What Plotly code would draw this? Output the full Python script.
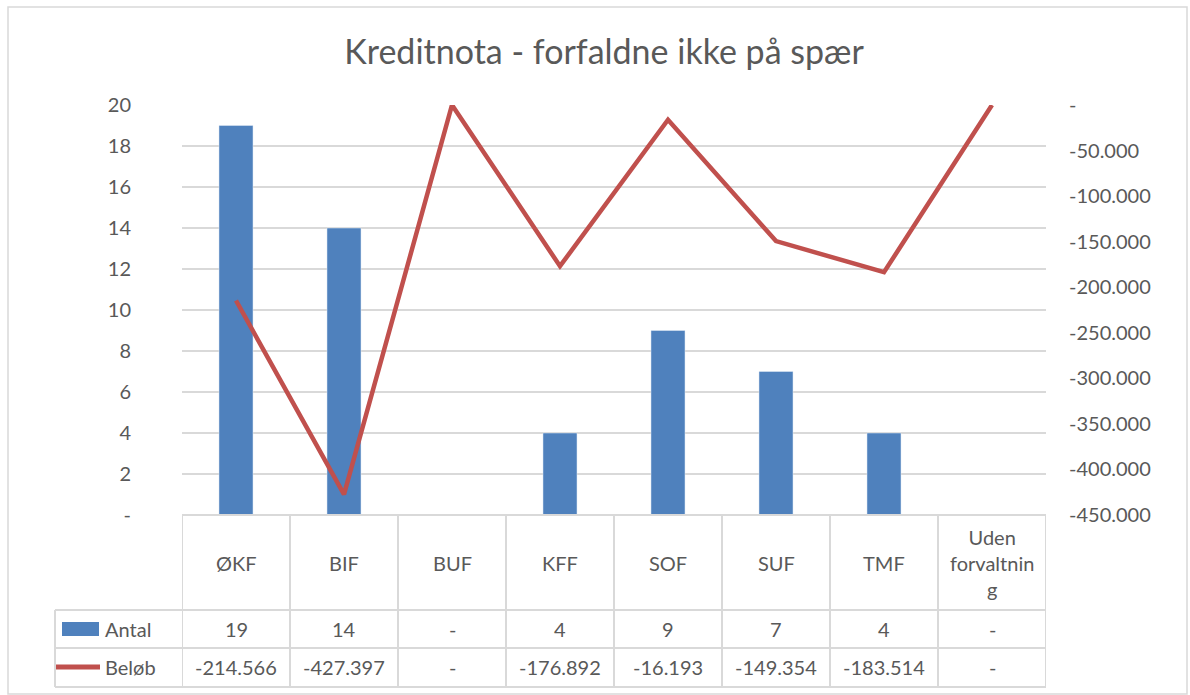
import plotly.graph_objects as go

# data
categories = ["ØKF", "BIF", "BUF", "KFF", "SOF", "SUF", "TMF", "Uden forvaltning"]
category_labels = ["ØKF", "BIF", "BUF", "KFF", "SOF", "SUF", "TMF", "Uden<br>forvaltnin<br>g"]
antal = [19, 14, 0, 4, 9, 7, 4, 0]
beloeb = [-214566, -427397, 0, -176892, -16193, -149354, -183514, 0]

left_ticks = list(range(0, 21, 2))
right_ticks = list(range(-450000, 1, 50000))

BLUE = "#4F81BD"
RED = "#C0504D"
GREY = "#595959"
GRID = "#D9D9D9"
FONT = "Lato, 'Noto Sans', sans-serif"

# pixel geometry of the plot area (figure is 1190 x 695)
W, H = 1190, 695
L, R, T, B = 182, 1046, 105, 515


def px(x):
    return (x - L) / (R - L)


def py(y):
    return (B - y) / (B - T)


def fmt(v):
    if v == 0:
        return "-"
    return f"{v:,}".replace(",", ".")


fig = go.Figure()
fig.add_trace(go.Bar(x=categories, y=antal, name="Antal", marker_color=BLUE,
                     width=0.315, yaxis="y"))
fig.add_trace(go.Scatter(x=categories, y=beloeb, name="Beløb", mode="lines",
                         line=dict(color=RED, width=4.5), yaxis="y2"))

shapes = []
annotations = []

# outer chart frame
shapes.append(dict(type="rect", xref="paper", yref="paper",
                   x0=px(8), x1=px(1187), y0=py(694), y1=py(7),
                   line=dict(color=GRID, width=1.5), layer="below"))

# data table grid
row_lines = [B, 610, 648, 687]
for i, yl in enumerate(row_lines):
    x0 = px(L) if i == 0 else px(55)
    shapes.append(dict(type="line", xref="paper", yref="paper",
                       x0=x0, x1=px(R), y0=py(yl), y1=py(yl),
                       line=dict(color=GRID, width=2)))
for i in range(len(categories) + 1):
    shapes.append(dict(type="line", xref="x", yref="paper",
                       x0=i - 0.5, x1=i - 0.5, y0=py(B), y1=py(687),
                       line=dict(color=GRID, width=2)))
shapes.append(dict(type="line", xref="paper", yref="paper",
                   x0=px(55), x1=px(55), y0=py(610), y1=py(687),
                   line=dict(color=GRID, width=2)))

# legend keys inside the table
shapes.append(dict(type="rect", xref="paper", yref="paper",
                   x0=px(62), x1=px(99), y0=py(636), y1=py(622),
                   fillcolor=BLUE, line=dict(width=0)))
shapes.append(dict(type="line", xref="paper", yref="paper",
                   x0=px(56), x1=px(100), y0=py(667), y1=py(667),
                   line=dict(color=RED, width=5)))

cell_font = dict(family=FONT, size=20, color=GREY)
for i, lab in enumerate(category_labels):
    annotations.append(dict(x=i, y=py(563), xref="x", yref="paper", text=lab,
                            xanchor="center", yanchor="middle",
                            showarrow=False, font=cell_font))
    annotations.append(dict(x=i, y=py(629), xref="x", yref="paper", text=fmt(antal[i]),
                            xanchor="center", yanchor="middle",
                            showarrow=False, font=cell_font))
    annotations.append(dict(x=i, y=py(667), xref="x", yref="paper", text=fmt(beloeb[i]),
                            xanchor="center", yanchor="middle",
                            showarrow=False, font=cell_font))
annotations.append(dict(x=px(103), y=py(629), xref="paper", yref="paper", text="Antal",
                        xanchor="left", yanchor="middle", showarrow=False, font=cell_font))
annotations.append(dict(x=px(103), y=py(667), xref="paper", yref="paper", text="Beløb",
                        xanchor="left", yanchor="middle", showarrow=False, font=cell_font))

fig.update_layout(
    width=W, height=H,
    margin=dict(l=L, r=W - R, t=T, b=H - B),
    paper_bgcolor="white", plot_bgcolor="white",
    title=dict(text="Kreditnota - forfaldne ikke på spær", xref="container",
               x=604 / W, xanchor="center", y=1 - 52 / H, yanchor="middle",
               font=dict(family=FONT, size=34, color=GREY)),
    showlegend=False,
    font=dict(family=FONT, color=GREY),
    xaxis=dict(range=[-0.5, 7.5], showticklabels=False, showgrid=False, zeroline=False,
               showline=False, fixedrange=True),
    yaxis=dict(range=[0, 20], tickvals=left_ticks,
               ticktext=["-" if v == 0 else str(v) for v in left_ticks],
               showgrid=True, gridcolor=GRID, gridwidth=1.5, zeroline=False,
               tickfont=dict(size=20, color=GREY), ticklabelstandoff=50),
    yaxis2=dict(range=[-450000, 0], overlaying="y", side="right", tickvals=right_ticks,
                ticktext=[fmt(v) for v in right_ticks], showgrid=False, zeroline=False,
                tickfont=dict(size=20, color=GREY), ticklabelstandoff=22),
    shapes=shapes,
    annotations=annotations,
)

fig.write_html("out.html", config={"displayModeBar": False},
               post_script="document.body.style.margin = '0';")
